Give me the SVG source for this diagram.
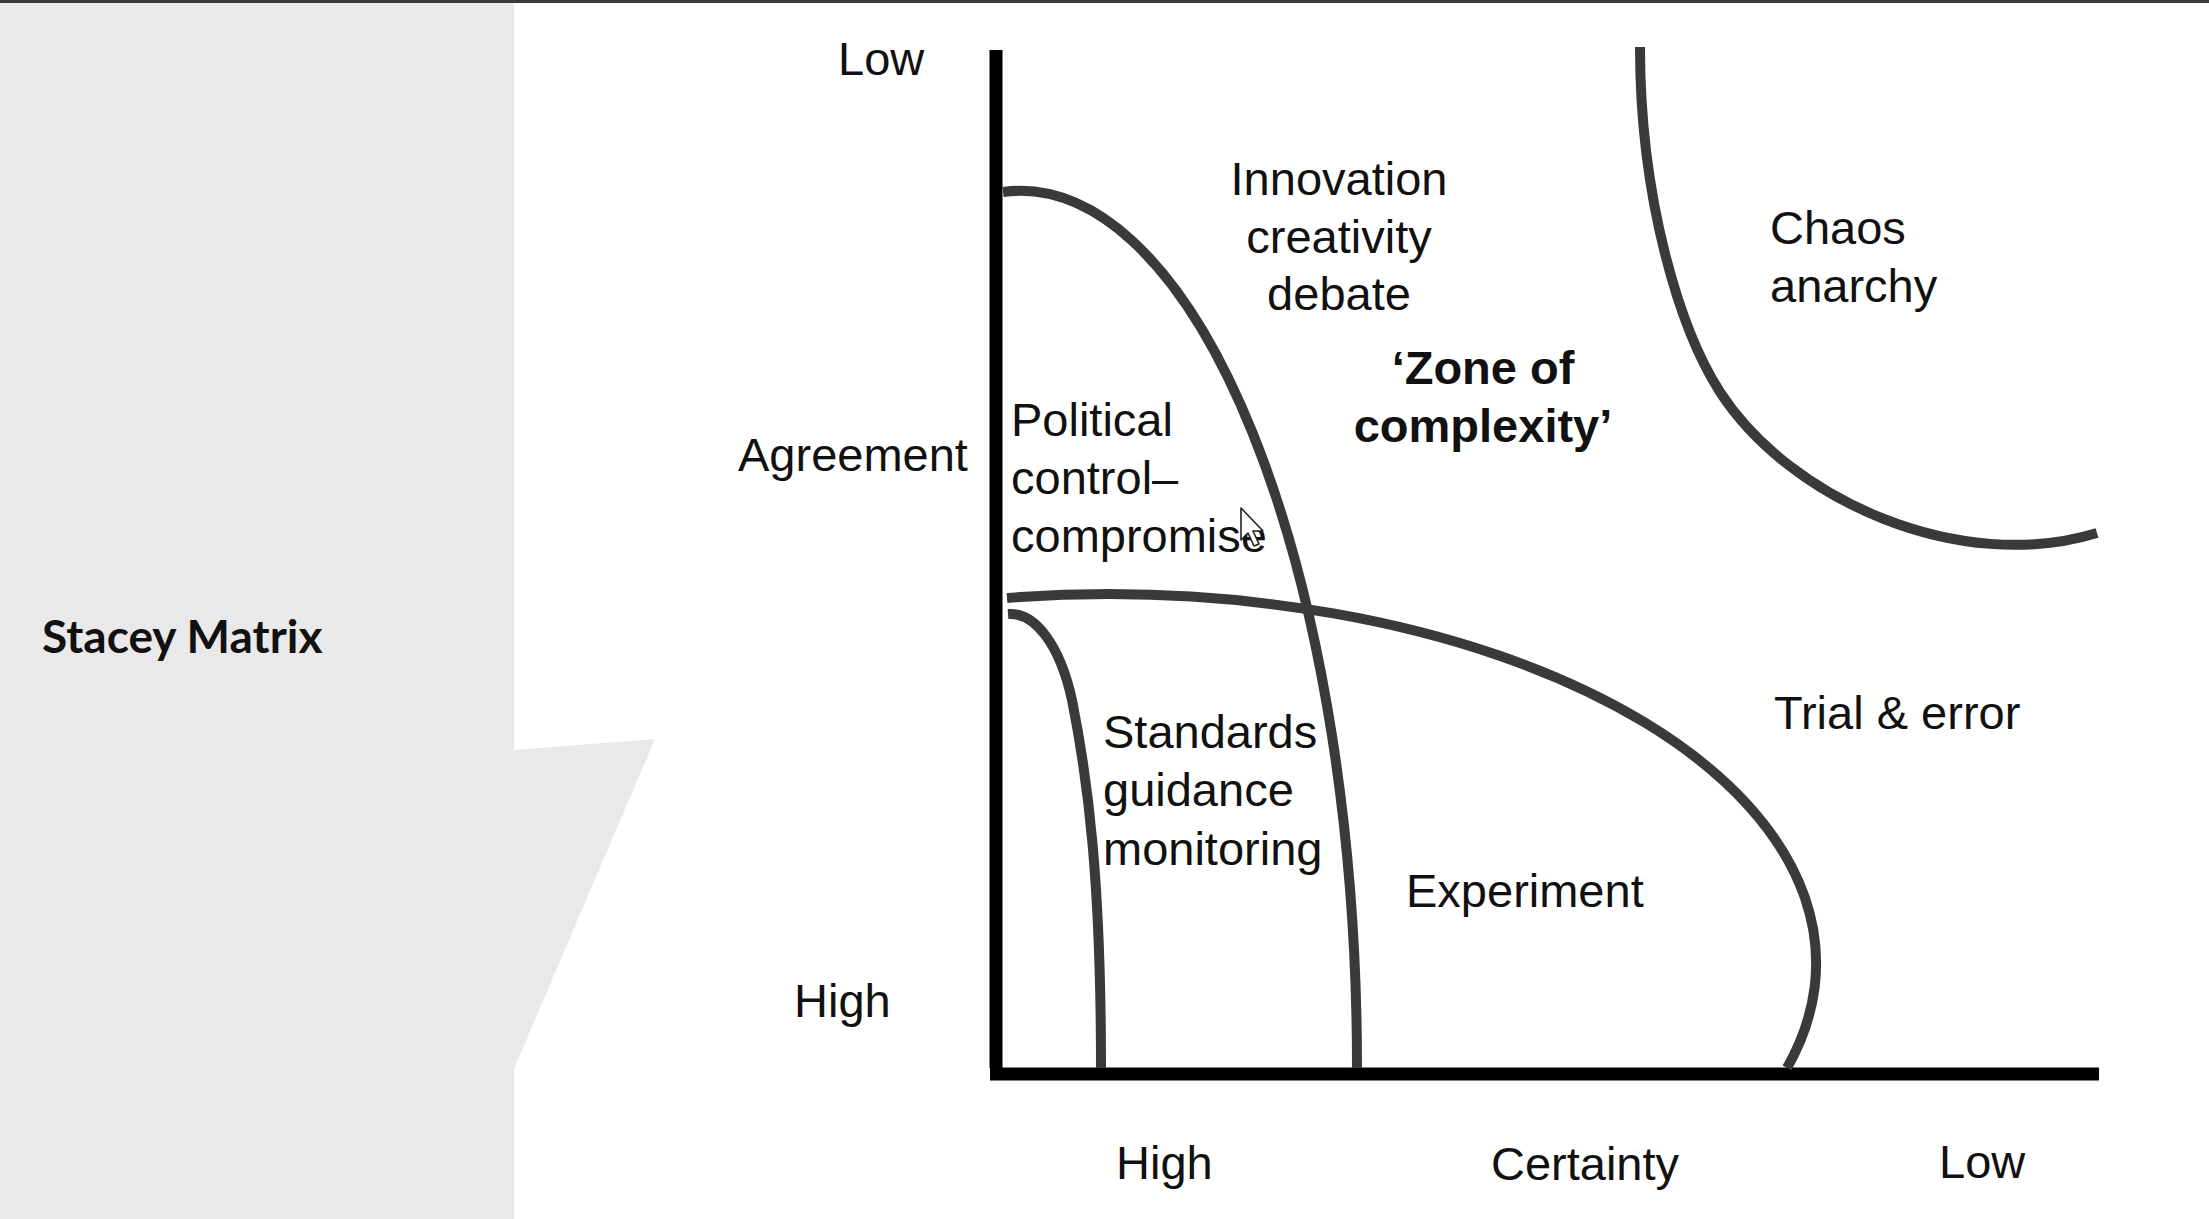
<svg xmlns="http://www.w3.org/2000/svg" width="2209" height="1219" viewBox="0 0 2209 1219">
  <style>
    .lbl { font-family: "Liberation Sans", Arial, sans-serif; font-size: 47px; fill: #111; }
    .bold { font-weight: bold; }
    .mid { text-anchor: middle; }
    .curve { fill: none; stroke: #3a3a3a; stroke-width: 10; stroke-linecap: butt; }
    .axis { fill: none; stroke: #000; stroke-width: 13; }
  </style>

  <!-- page -->
  <rect width="2209" height="1219" fill="#fff"/>
  <rect x="0" y="0" width="514" height="1219" fill="#e9e9e9"/>
  <polygon points="513,750 655,739 513,1071" fill="#e9e9e9"/>
  <rect x="0" y="0" width="2209" height="3" fill="#3a3a3a"/>

  <g id="title">
    <text x="42" y="653" style="font-family: Lato, 'Open Sans', sans-serif; font-size: 46px; font-weight: bold; fill: #111;">Stacey Matrix</text>
  </g>

  <!-- axes -->
  <g id="axes">
    <line class="axis" x1="996" y1="50" x2="996" y2="1068"/>
    <line class="axis" x1="990" y1="1074" x2="2099" y2="1074"/>
  </g>

  <!-- zone boundaries -->
  <g id="connectors">
    <path class="curve" d="M1003,192 A337,876 0 0,1 1357,1068"/>
    <path class="curve" d="M1007,598 A708,369 0 0,1 1787,1068"/>
    <path class="curve" d="M1008,614 C1035,612 1060,645 1072,700 C1088,780 1101,880 1101,1068"/>
    <path class="curve" d="M1640,47 C1640,200 1680,330 1720,392 C1790,500 1960,575 2097,533"/>
  </g>

  <!-- axis labels -->
  <g id="axis-labels">
    <text class="lbl" x="838" y="75">Low</text>
    <text class="lbl" x="738" y="471">Agreement</text>
    <text class="lbl" x="794" y="1017">High</text>
    <text class="lbl" x="1116" y="1179">High</text>
    <text class="lbl" x="1491" y="1180">Certainty</text>
    <text class="lbl" x="1939" y="1178">Low</text>
  </g>

  <!-- zones -->
  <g id="zone-political">
    <text class="lbl" x="1011" y="436">Political</text>
    <text class="lbl" x="1011" y="494">control–</text>
    <text class="lbl" x="1011" y="552">compromise</text>
  </g>
  <g id="zone-innovation">
    <text class="lbl mid" x="1339" y="195">Innovation</text>
    <text class="lbl mid" x="1339" y="253">creativity</text>
    <text class="lbl mid" x="1339" y="310">debate</text>
  </g>
  <g id="zone-complexity">
    <text class="lbl bold mid" x="1483" y="384">‘Zone of</text>
    <text class="lbl bold mid" x="1483" y="442">complexity’</text>
  </g>
  <g id="zone-chaos">
    <text class="lbl" x="1770" y="244">Chaos</text>
    <text class="lbl" x="1770" y="302">anarchy</text>
  </g>
  <g id="zone-standards">
    <text class="lbl" x="1103" y="748">Standards</text>
    <text class="lbl" x="1103" y="806">guidance</text>
    <text class="lbl" x="1103" y="865">monitoring</text>
  </g>
  <g id="zone-experiment">
    <text class="lbl" x="1406" y="907">Experiment</text>
  </g>
  <g id="zone-trial">
    <text class="lbl" x="1774" y="729">Trial &amp; error</text>
  </g>

  <!-- pointer -->
  <g id="pointer">
    <path d="M1241,508 L1241,540 L1248,533 L1254,546 L1259,544 L1253,531 L1263,531 Z" fill="#fff" stroke="#222" stroke-width="1.6" stroke-linejoin="round"/>
  </g>
</svg>
